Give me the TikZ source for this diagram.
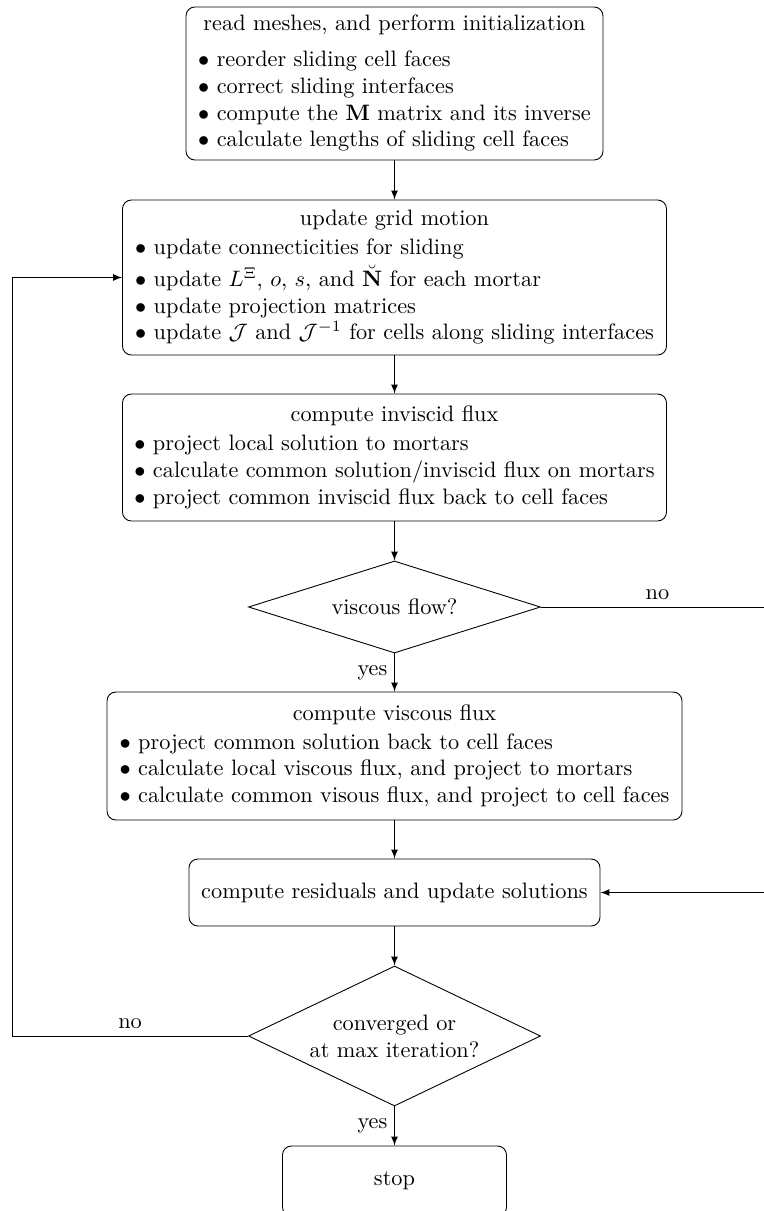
\documentclass[tikz,border=0pt]{standalone}
\usepackage{amsmath,amssymb}
\usetikzlibrary{shapes.geometric,arrows.meta}
\newdimen\px \px=0.4484pt
\begin{document}
\begin{tikzpicture}[x=0.4484pt,y=-0.4484pt,
  box/.style={draw, rounded corners=4pt, inner sep=0pt, align=center},
  dec/.style={draw, diamond, inner sep=0pt, align=center},
  arr/.style={-latex},
  lbl/.style={inner sep=3pt}]
\clip (0,0) rectangle (764,1211);
\node[box, minimum width=417\px, minimum height=153\px] (b1) at (394.5,83.5) {%
\begin{tabular}{@{}l@{}}\multicolumn{1}{@{}c@{}}{read meshes, and perform initialization}\\[4pt]
$\bullet$ reorder sliding cell faces\\
$\bullet$ correct sliding interfaces\\
$\bullet$ compute the $\mathbf{M}$ matrix and its inverse\\
$\bullet$ calculate lengths of sliding cell faces
\end{tabular}};
\node[box, minimum width=544\px, minimum height=155\px] (b2) at (394.5,277.5) {%
\begin{tabular}{@{}l@{}}\multicolumn{1}{@{}c@{}}{update grid motion}\\[1pt]
$\bullet$ update connecticities for sliding\\[1pt]
$\bullet$ update $L^{\Xi}$, $o$, $s$, and $\breve{\mathbf{N}}$ for each mortar\\
$\bullet$ update projection matrices\\
$\bullet$ update $\mathcal{J}$ and $\mathcal{J}^{-1}$ for cells along sliding interfaces
\end{tabular}};
\node[box, minimum width=544\px, minimum height=127\px] (b3) at (394.5,457.5) {%
\begin{tabular}{@{}l@{}}\multicolumn{1}{@{}c@{}}{compute inviscid flux}\\[1pt]
$\bullet$ project local solution to mortars\\
$\bullet$ calculate common solution/inviscid flux on mortars\\
$\bullet$ project common inviscid flux back to cell faces
\end{tabular}};
\node[dec, aspect=3.17, minimum width=292\px, minimum height=92\px] (d1) at (394.5,607) {viscous flow?};
\node[box, minimum width=575\px, minimum height=128\px] (b4) at (394.5,756) {%
\begin{tabular}{@{}l@{}}\multicolumn{1}{@{}c@{}}{compute viscous flux}\\[1pt]
$\bullet$ project common solution back to cell faces\\
$\bullet$ calculate local viscous flux, and project to mortars\\
$\bullet$ calculate common visous flux, and project to cell faces
\end{tabular}};
\node[box, minimum width=411\px, minimum height=67\px] (b5) at (394.5,892.5) {compute residuals and update solutions};
\node[dec, aspect=2.09, minimum width=292\px, minimum height=140\px] (d2) at (394.5,1036) {converged or\\at max iteration?};
\node[box, minimum width=224\px, minimum height=70\px] (b6) at (394.5,1181) {stop};
\coordinate (r1) at (774,607);
\coordinate (l1) at (12,1036);
\draw[arr] (b1) -- (b2);
\draw[arr] (b2) -- (b3);
\draw[arr] (b3) -- (d1);
\draw[arr] (d1) -- node[lbl, left]{yes} (b4);
\draw[arr] (b4) -- (b5);
\draw[arr] (b5) -- (d2);
\draw[arr] (d2) -- node[lbl, left]{yes} (b6);
\draw[arr] (d1.east) -- node[lbl, above]{no} (r1) -- (r1 |- b5.east) -- (b5.east);
\draw[arr] (d2.west) -- node[lbl, above]{no} (l1) |- (b2.west);
\end{tikzpicture}
\end{document}
